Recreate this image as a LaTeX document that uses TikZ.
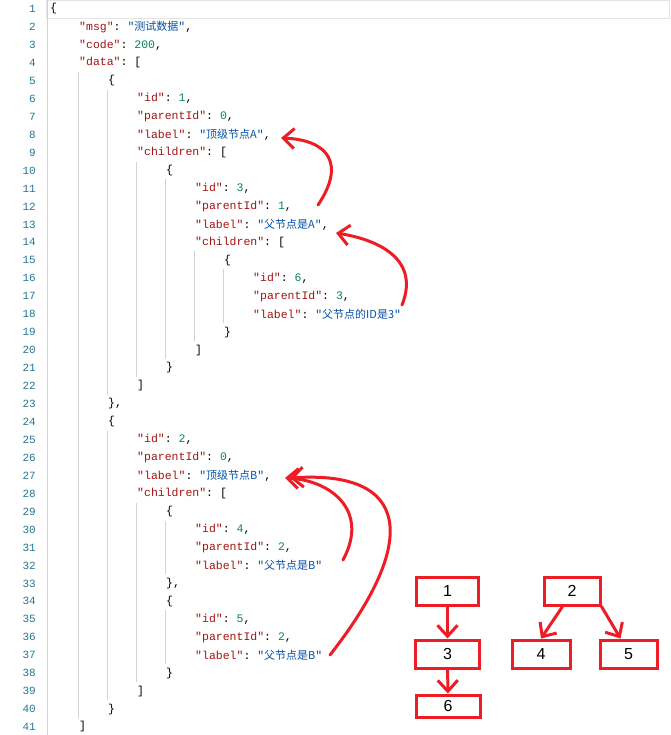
\documentclass[tikz,border=0pt]{standalone}
\usepackage{fontspec}
\setmonofont{Liberation Mono}
\setsansfont{Liberation Sans}
\newfontfamily\cjk{Noto Sans CJK SC}
\usetikzlibrary{arrows.meta}
\definecolor{keyc}{HTML}{A31515}
\definecolor{strc}{HTML}{0451A5}
\definecolor{numc}{HTML}{098658}
\definecolor{lnc}{HTML}{237893}
\definecolor{guide}{HTML}{D3D3D3}
\definecolor{annot}{HTML}{EE1C25}
\newcommand{\Kk}[1]{\textcolor{keyc}{"#1"}}
\newcommand{\Ss}[1]{\textcolor{strc}{"{\cjk\fontsize{11}{13}\selectfont #1}"}}
\newcommand{\Nn}[1]{\textcolor{numc}{#1}}
\tikzset{
  codeline/.style={anchor=west,inner sep=0pt,font=\ttfamily\fontsize{11.5}{13}\selectfont},
  lineno/.style={anchor=east,inner sep=0pt,text=lnc,font=\ttfamily\fontsize{11}{13}\selectfont},
  guideline/.style={draw=guide,line width=0.8pt},
  redstroke/.style={draw=annot,line width=3pt,line cap=round,line join=round},
  markhead/.style={-{Straight Barb[length=11pt,width=20pt,line width=3pt]}},
  treebox/.style={draw=annot,line width=3pt,minimum height=28pt,inner sep=0pt,font=\sffamily\fontsize{16}{18}\selectfont}
}
\begin{document}
\begin{tikzpicture}[x=1pt,y=-1pt]
\useasboundingbox (0,0) rectangle (670,735);
\fill[white] (0,0) rectangle (670,735);
\draw[guide!60] (46,0.5) rectangle (669.5,18);
% gutter
\draw[guideline] (47,0) -- (47,735);
\foreach \lv/\a/\b in {1/5/40,2/6/22,3/10/21,4/11/20,5/15/19,6/16/18,2/25/39,3/29/38,4/30/32,4/35/37}{
  \draw[guideline] ({51+29*\lv-2},{9+17.95*(\a-1)-9}) -- ({51+29*\lv-2},{9+17.95*(\b-1)+9});
}
\foreach \i in {1,...,41}{\node[lineno] (n\i) at (36,{9+17.95*(\i-1)}) {\i};}
\newcommand{\CL}[3]{\node[codeline] (l#1) at ({50+29*#2},{9+17.95*(#1-1)}) {#3};}
\CL{1}{0}{\{}
\CL{2}{1}{\Kk{msg}: \Ss{测试数据},}
\CL{3}{1}{\Kk{code}: \Nn{200},}
\CL{4}{1}{\Kk{data}: [}
\CL{5}{2}{\{}
\CL{6}{3}{\Kk{id}: \Nn{1},}
\CL{7}{3}{\Kk{parentId}: \Nn{0},}
\CL{8}{3}{\Kk{label}: \Ss{顶级节点A},}
\CL{9}{3}{\Kk{children}: [}
\CL{10}{4}{\{}
\CL{11}{5}{\Kk{id}: \Nn{3},}
\CL{12}{5}{\Kk{parentId}: \Nn{1},}
\CL{13}{5}{\Kk{label}: \Ss{父节点是A},}
\CL{14}{5}{\Kk{children}: [}
\CL{15}{6}{\{}
\CL{16}{7}{\Kk{id}: \Nn{6},}
\CL{17}{7}{\Kk{parentId}: \Nn{3},}
\CL{18}{7}{\Kk{label}: \Ss{父节点的ID是3}}
\CL{19}{6}{\}}
\CL{20}{5}{]}
\CL{21}{4}{\}}
\CL{22}{3}{]}
\CL{23}{2}{\},}
\CL{24}{2}{\{}
\CL{25}{3}{\Kk{id}: \Nn{2},}
\CL{26}{3}{\Kk{parentId}: \Nn{0},}
\CL{27}{3}{\Kk{label}: \Ss{顶级节点B},}
\CL{28}{3}{\Kk{children}: [}
\CL{29}{4}{\{}
\CL{30}{5}{\Kk{id}: \Nn{4},}
\CL{31}{5}{\Kk{parentId}: \Nn{2},}
\CL{32}{5}{\Kk{label}: \Ss{父节点是B}}
\CL{33}{4}{\},}
\CL{34}{4}{\{}
\CL{35}{5}{\Kk{id}: \Nn{5},}
\CL{36}{5}{\Kk{parentId}: \Nn{2},}
\CL{37}{5}{\Kk{label}: \Ss{父节点是B}}
\CL{38}{4}{\}}
\CL{39}{3}{]}
\CL{40}{2}{\}}
\CL{41}{1}{]}
% annotation arrows
\coordinate (a1) at (318,205); \coordinate (h1) at (281,138);
\coordinate (a2) at (402,305); \coordinate (h2) at (336,233);
\coordinate (a3) at (343,560); \coordinate (h3) at (285,478);
\coordinate (a4) at (330,655); \coordinate (h4) at (290,478);
\draw[redstroke,markhead] (a1) .. controls (345,165) and (330,140) .. (h1);
\draw[redstroke,markhead] (a2) .. controls (420,260) and (380,240) .. (h2);
\draw[redstroke,markhead] (a3) .. controls (370,510) and (330,480) .. (h3);
\draw[redstroke,markhead] (a4) .. controls (420,540) and (410,470) .. (h4);
% tree
\node[treebox,minimum width=62pt] (b1) at (447.5,591) {1};
\node[treebox,minimum width=64pt] (b3) at (447.5,654) {3};
\node[treebox,minimum width=64pt,minimum height=22pt] (b6) at (448,706) {6};
\node[treebox,minimum width=56pt] (b2) at (572,591) {2};
\node[treebox,minimum width=58pt] (b4) at (541,654) {4};
\node[treebox,minimum width=57pt] (b5) at (628.5,654) {5};
\draw[redstroke,markhead] (b1) -- (b3);
\draw[redstroke,markhead] (b3) -- (b6);
\draw[redstroke,markhead] ([xshift=20pt]b2.south west) -- (b4.north);
\draw[redstroke,markhead] (b2.south east) -- ([xshift=-8pt]b5.north);
\end{tikzpicture}
\end{document}
